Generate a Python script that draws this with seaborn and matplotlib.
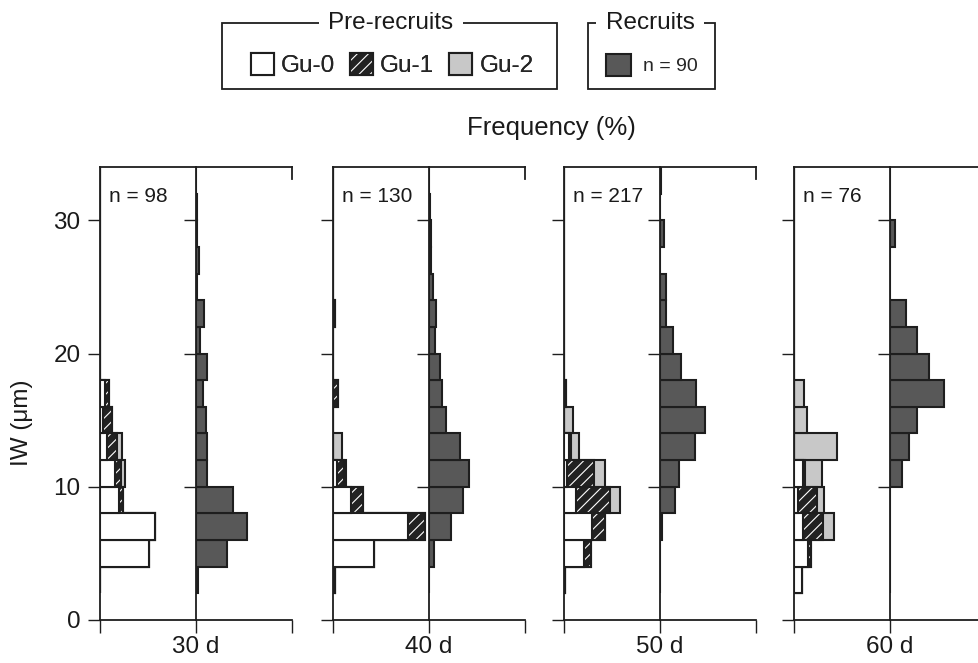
import numpy as np
import matplotlib
matplotlib.use("Agg")
import matplotlib.pyplot as plt
import seaborn as sns
from matplotlib.patches import Patch, Rectangle
from matplotlib.legend_handler import HandlerTuple

# =========================
# DADOS (frequência %, classes de IW de 2 µm)
# =========================

# centros das classes 2-4, 4-6, ..., 32-34 µm
bin_centers = [3, 5, 7, 9, 11, 13, 15, 17, 19, 21, 23, 25, 27, 29, 31, 33]

day_labels = ["30 d", "40 d", "50 d", "60 d"]
n_labels = ["n = 98", "n = 130", "n = 217", "n = 76"]

# pre-recrutas: Gu-0, Gu-1, Gu-2 (por painel)
gu0_30 = [0, 25.3, 28.6, 10.0, 7.8, 3.5, 1.5, 2.5, 0, 0, 0, 0, 0, 0, 0, 0]
gu1_30 = [0, 0, 0, 2.2, 3.0, 5.5, 4.5, 2.4, 0, 0, 0, 0, 0, 0, 0, 0]
gu2_30 = [0, 0, 0, 0, 2.2, 2.3, 0, 0, 0, 0, 0, 0, 0, 0, 0, 0]

gu0_40 = [1.0, 21.6, 39.1, 9.3, 2.0, 0, 0, 0, 0, 0, 0, 0, 0, 0, 0, 0]
gu1_40 = [0, 0, 8.6, 6.2, 3.5, 0, 0, 2.4, 0, 0, 1.2, 0, 0, 0, 0, 0]
gu2_40 = [0, 0, 0, 0, 1.5, 4.8, 0, 0, 0, 0, 0, 0, 0, 0, 0, 0]

gu0_50 = [0.7, 10.4, 14.4, 6.2, 1.5, 2.5, 0, 0, 0, 0, 0, 0, 0, 0, 0, 0]
gu1_50 = [0, 3.5, 6.9, 17.7, 14.3, 1.0, 0, 1.0, 0, 0, 0, 0, 0, 0, 0, 0]
gu2_50 = [0, 0, 0, 5.2, 5.6, 4.5, 4.5, 0, 0, 0, 0, 0, 0, 0, 0, 0]

gu0_60 = [4.0, 7.5, 4.9, 2.3, 4.5, 0, 0, 0, 0, 0, 0, 0, 0, 0, 0, 0]
gu1_60 = [0, 1.5, 10.4, 9.5, 1.2, 0, 0, 0, 0, 0, 0, 0, 0, 0, 0, 0]
gu2_60 = [0, 0, 5.7, 4.0, 8.7, 22.6, 6.6, 5.2, 0, 0, 0, 0, 0, 0, 0, 0]

# recrutas
rec_30 = [1.0, 16.3, 26.7, 19.4, 5.9, 5.9, 5.2, 3.5, 5.9, 2.1, 4.2, 0.7, 1.7, 0.4, 0.4, 0]
rec_40 = [0, 2.4, 11.2, 17.6, 21.0, 16.4, 8.6, 6.9, 5.9, 2.9, 3.4, 2.1, 1.2, 0.9, 0.5, 0]
rec_50 = [0, 0, 1.0, 7.8, 9.9, 18.2, 23.4, 18.6, 10.8, 6.6, 3.0, 3.0, 0, 2.3, 0, 0.5]
rec_60 = [0, 0, 0, 0, 6.1, 10.0, 13.9, 28.1, 20.1, 13.9, 8.2, 0, 0, 2.6, 0, 0]

pre_recruits = [
    (gu0_30, gu1_30, gu2_30),
    (gu0_40, gu1_40, gu2_40),
    (gu0_50, gu1_50, gu2_50),
    (gu0_60, gu1_60, gu2_60),
]
recruits = [rec_30, rec_40, rec_50, rec_60]

# =========================
# ESTILO
# =========================

sns.set_theme(style="ticks")
plt.rcParams["font.family"] = ["Liberation Sans", "DejaVu Sans"]
plt.rcParams["hatch.linewidth"] = 0.8

EDGE = "#1e1e1e"
GREY = "#c8c8c8"
DARK = "#222222"
REC = "#585858"
LW = 1.5
FS = 17.5

W, H = 979, 663
fig = plt.figure(figsize=(W / 100, H / 100), dpi=100)
fig.patch.set_facecolor("white")

lefts = [100, 333, 564, 794]
half = 96
bottom_px, top_px = 620, 167


def style_axis(ax, yticks, xticks):
    ax.set_xlim(0, 50)
    ax.set_ylim(0, 34)
    ax.set_yticks(yticks)
    ax.set_xticks(xticks)
    ax.set_xticklabels([])
    ax.set_yticklabels([])
    ax.set_xlabel("")
    ax.set_ylabel("")
    ax.tick_params(axis="both", direction="out", length=9, width=1.0,
                   color=EDGE, labelsize=FS, labelcolor="#1a1a1a", pad=5)
    for s in ax.spines.values():
        s.set_linewidth(1.3)
        s.set_color(EDGE)


def bars(ax, values, **kw):
    sns.barplot(x=np.array(values, dtype=float), y=bin_centers, orient="y",
                native_scale=True, width=1, errorbar=None, ax=ax, **kw)


for i in range(4):
    x0 = lefts[i]
    ax_l = fig.add_axes([x0 / W, (H - bottom_px) / H, half / W, (bottom_px - top_px) / H])
    ax_r = fig.add_axes([(x0 + half) / W, (H - bottom_px) / H, half / W, (bottom_px - top_px) / H])
    ax_l.patch.set_alpha(0)
    ax_r.patch.set_alpha(0)

    g0, g1, g2 = [np.array(v) for v in pre_recruits[i]]
    c1 = g0
    c2 = g0 + g1
    c3 = g0 + g1 + g2

    # empilhado: Gu-2 (total), Gu-1, Gu-0 por cima
    bars(ax_l, c3, facecolor=GREY, edgecolor=EDGE, linewidth=LW)
    bars(ax_l, c2, facecolor=DARK, edgecolor="white", hatch="///", linewidth=0)
    bars(ax_l, c2, facecolor="none", edgecolor=EDGE, linewidth=LW)
    bars(ax_l, c1, facecolor="white", edgecolor=EDGE, linewidth=LW)

    bars(ax_r, recruits[i], facecolor=REC, edgecolor=EDGE, linewidth=LW)

    style_axis(ax_l, [0, 10, 20, 30], [0])
    style_axis(ax_r, [10, 20, 30], [0, 50])
    ax_l.spines["right"].set_visible(False)
    ax_r.spines["right"].set_bounds(33.1, 34)

    if i == 0:
        ax_l.set_yticklabels(["0", "10", "20", "30"])

    ax_l.text(0.094, 0.934, n_labels[i], transform=ax_l.transAxes,
              ha="left", va="center", fontsize=15, color="#1a1a1a")
    ax_r.text(0, -0.035, day_labels[i], transform=ax_r.get_xaxis_transform(),
              ha="center", va="top", fontsize=FS, color="#1a1a1a")

fig.text(22 / W, 1 - 423 / H, "IW (μm)", rotation=90, ha="center", va="center",
         fontsize=FS, color="#1a1a1a")
fig.text(551 / W, 1 - 128 / H, "Frequency (%)", ha="center", va="center",
         fontsize=18.5, color="#1a1a1a")

# =========================
# LEGENDAS
# =========================

h_gu0 = Patch(facecolor="white", edgecolor=EDGE, linewidth=LW)
h_gu1 = (Patch(facecolor=DARK, edgecolor="white", hatch="///", linewidth=0),
         Patch(facecolor="none", edgecolor=EDGE, linewidth=LW))
h_gu2 = Patch(facecolor=GREY, edgecolor=EDGE, linewidth=LW)
h_rec = Patch(facecolor=REC, edgecolor=EDGE, linewidth=LW)

leg1 = fig.legend([h_gu0, h_gu1, h_gu2], ["Gu-0", "Gu-1", "Gu-2"],
                  loc="center", bbox_to_anchor=(392 / W, 1 - 65 / H), ncol=3,
                  frameon=False, fontsize=FS, handlelength=0.95, handleheight=1.0,
                  handletextpad=0.3, columnspacing=0.6,
                  handler_map={tuple: HandlerTuple(ndivide=1, pad=0)})
fig.add_artist(leg1)
leg2 = fig.legend([h_rec], ["n = 90"], loc="center",
                  bbox_to_anchor=(652 / W, 1 - 65 / H), frameon=False,
                  fontsize=14, handlelength=1.3, handleheight=1.4, handletextpad=0.6)

for (x_a, x_b), title, tx in [((222, 557), "Pre-recruits", 391),
                              ((588, 715), "Recruits", 650)]:
    fig.patches.append(Rectangle((x_a / W, 1 - 89 / H), (x_b - x_a) / W, 66 / H,
                                 transform=fig.transFigure, fill=False,
                                 edgecolor=EDGE, linewidth=1.3))
    fig.text(tx / W, 1 - 23 / H, title, ha="center", va="center", fontsize=FS,
             color="#1a1a1a",
             bbox=dict(facecolor="white", edgecolor="none", pad=7))

fig.savefig("out.png", dpi=100)
